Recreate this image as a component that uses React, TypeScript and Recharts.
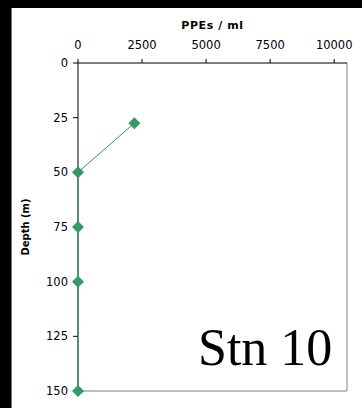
import React from 'react';
import { ScatterChart, Scatter, XAxis, YAxis, ReferenceLine } from 'recharts';

// PPEs per ml against depth, station 10
const depths = [27.5, 50, 75, 100, 150];
const ppeValues = [2200, 0, 0, 0, 0];
const xTicks = [0, 2500, 5000, 7500, 10000];
const yTicks = [0, 25, 50, 75, 100, 125, 150];

const GREEN = '#339966';
const AXIS_FONT = '"DejaVu Sans", sans-serif';

const data = depths.map((d, i) => ({ depth: d, ppe: ppeValues[i] }));

const Diamond = (props: any) => {
  const { cx, cy } = props;
  if (cx == null || cy == null) return null;
  const r = 6;
  return (
    <polygon
      points={`${cx},${cy - r} ${cx + r},${cy} ${cx},${cy + r} ${cx - r},${cy}`}
      fill={GREEN}
    />
  );
};

const XLabel = (props: any) => {
  const vb = props.viewBox || { x: 67, y: 20, width: 269 };
  return (
    <text
      x={vb.x + vb.width / 2}
      y={vb.y + 1}
      textAnchor="middle"
      fontFamily={AXIS_FONT}
      fontWeight="bold"
      fontSize={11}
      letterSpacing={0.6}
      fill="#000"
    >
      PPEs / ml
    </text>
  );
};

const YLabel = (props: any) => {
  const vb = props.viewBox || { x: 10, y: 55, height: 328 };
  const x = vb.x + 4;
  const y = vb.y + vb.height / 2;
  return (
    <text
      x={x}
      y={y}
      transform={`rotate(-90, ${x}, ${y})`}
      textAnchor="middle"
      dominantBaseline="central"
      fontFamily={AXIS_FONT}
      fontWeight="bold"
      fontSize={10}
      fill="#000"
    >
      Depth (m)
    </text>
  );
};

export default function App() {
  return (
    <div style={{ position: 'absolute', left: 0, top: 0, width: 362, height: 408, background: '#000' }}>
      <div
        style={{
          position: 'absolute',
          left: 11,
          top: 8,
          width: 351,
          height: 400,
          background: '#fff',
          boxShadow: 'inset 1px 0 0 #777',
        }}
      >
        <ScatterChart width={351} height={400} margin={{ top: 20, right: 15, bottom: 17, left: 10 }}>
          <XAxis
            type="number"
            dataKey="ppe"
            orientation="top"
            height={35}
            domain={[0, 10500]}
            ticks={xTicks}
            tickSize={4}
            tickMargin={10}
            tick={{ fill: '#000', fontSize: 11.5, fontFamily: AXIS_FONT }}
            axisLine={{ stroke: '#000' }}
            tickLine={{ stroke: '#000' }}
            label={XLabel}
          />
          <YAxis
            type="number"
            dataKey="depth"
            width={57}
            reversed
            domain={[0, 150]}
            ticks={yTicks}
            tickSize={5}
            tickMargin={5}
            tick={{ fill: '#000', fontSize: 11.5, fontFamily: AXIS_FONT }}
            axisLine={{ stroke: '#000' }}
            tickLine={{ stroke: '#000' }}
            label={YLabel}
          />
          <ReferenceLine x={10500} stroke="#808080" />
          <ReferenceLine y={150} stroke="#808080" />
          <Scatter
            data={data}
            line={{ stroke: GREEN, strokeWidth: 1 }}
            shape={Diamond}
            isAnimationActive={false}
          />
        </ScatterChart>
        <div
          style={{
            position: 'absolute',
            left: 187,
            top: 310,
            fontFamily: '"Liberation Serif", serif',
            fontSize: 52,
            lineHeight: '60px',
            color: '#000',
            whiteSpace: 'nowrap',
          }}
        >
          Stn 10
        </div>
      </div>
    </div>
  );
}
